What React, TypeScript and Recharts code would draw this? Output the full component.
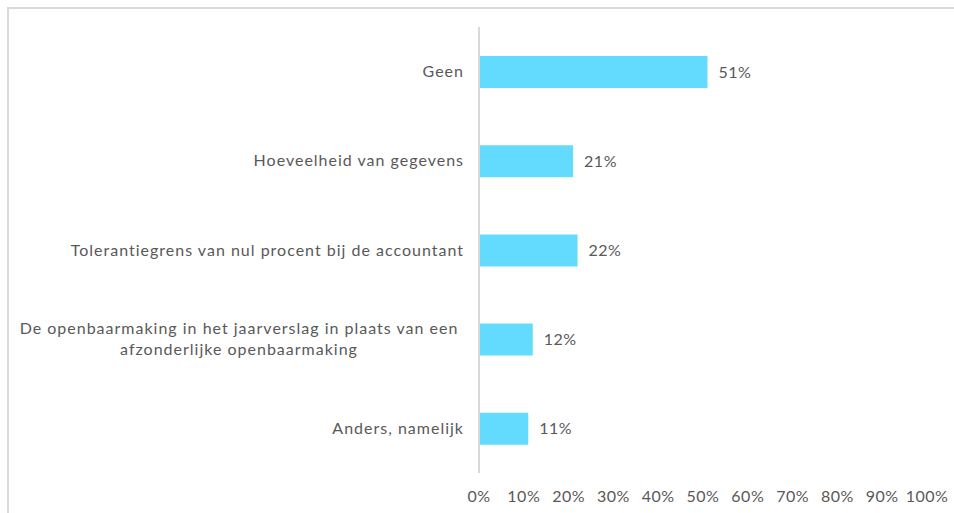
import React from 'react'
import { BarChart, Bar, XAxis, YAxis, LabelList } from 'recharts'

const categories = [
  'Geen',
  'Hoeveelheid van gegevens',
  'Tolerantiegrens van nul procent bij de accountant',
  'De openbaarmaking in het jaarverslag in plaats van een\nafzonderlijke openbaarmaking',
  'Anders, namelijk',
]
const percentages = [51, 21, 22, 12, 11]
const xTicks = [0, 10, 20, 30, 40, 50, 60, 70, 80, 90, 100]

const FONT = 'Lato, "Open Sans", sans-serif'
const TEXT = '#595959'
const SPACING = 1

const data = categories.map((name, i) => ({ name, value: percentages[i] }))

function CategoryTick(props: any) {
  const { x, y, payload } = props
  const lines = String(payload.value).split('\n')
  const lh = 21
  const startY = y - ((lines.length - 1) * lh) / 2
  // single lines right-aligned, wrapped label centered on its block
  if (lines.length === 1) {
    return (
      <text x={x} y={y} dy="0.35em" textAnchor="end" fill={TEXT} fontSize={16} fontFamily={FONT} letterSpacing={SPACING}>
        {lines[0]}
      </text>
    )
  }
  const cx = x - 225
  return (
    <text fill={TEXT} fontSize={16} fontFamily={FONT} letterSpacing={SPACING}>
      {lines.map((l, i) => (
        <tspan key={i} x={cx} y={startY + i * lh} dy="0.35em" textAnchor="middle">
          {l}
        </tspan>
      ))}
    </text>
  )
}

export default function App() {
  return (
    <div
      style={{
        position: 'absolute',
        left: 7,
        top: 7,
        width: 947,
        height: 506,
        borderTop: '2px solid #d9d9d9',
        borderLeft: '2px solid #d9d9d9',
        background: '#fff',
        boxSizing: 'border-box',
        overflow: 'hidden',
      }}
    >
      <BarChart
        width={944}
        height={503}
        data={data}
        layout="vertical"
        margin={{ top: 18, right: 26, left: 0, bottom: 0 }}
      >
        <XAxis
          type="number"
          domain={[0, 100]}
          ticks={xTicks}
          interval={0}
          axisLine={false}
          tickLine={false}
          tickMargin={12}
          height={39}
          tickFormatter={(v: number) => `${v}%`}
          tick={{ fill: TEXT, fontSize: 16, fontFamily: FONT, letterSpacing: 0.5 }}
        />
        <YAxis
          type="category"
          dataKey="name"
          width={470}
          axisLine={{ stroke: '#d9d9d9', strokeWidth: 2 }}
          tickLine={false}
          tickSize={0}
          tickMargin={15}
          tick={<CategoryTick />}
        />
        <Bar dataKey="value" fill="#63dbff" barSize={32} isAnimationActive={false}>
          <LabelList
            dataKey="value"
            position="right"
            offset={11}
            formatter={(v: any) => `${v}%`}
            style={{ fill: TEXT, fontSize: 16, fontFamily: FONT, letterSpacing: 0.5 }}
          />
        </Bar>
      </BarChart>
    </div>
  )
}
